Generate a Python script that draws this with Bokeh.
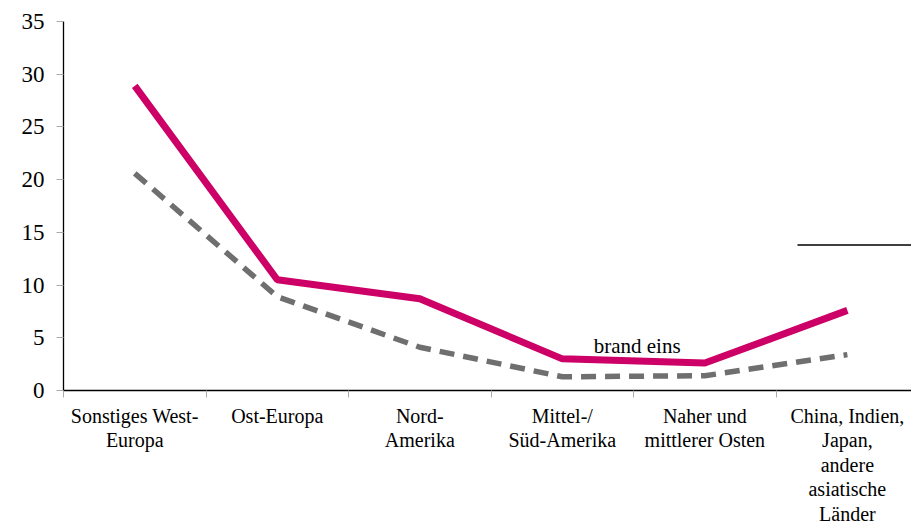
from bokeh.plotting import figure
from bokeh.models import Range1d, FixedTicker, Label
from bokeh.embed import file_html
from bokeh.resources import INLINE

categories = ["Sonstiges West-\nEuropa", "Ost-Europa", "Nord-\nAmerika",
              "Mittel-/\nSüd-Amerika", "Naher und\nmittlerer Osten",
              "China, Indien,\nJapan,\nandere\nasiatische\nLänder"]
series_brand = [28.9, 10.5, 8.7, 3.0, 2.6, 7.6]
series_other = [20.6, 8.9, 4.1, 1.3, 1.4, 3.4]
y_ticks = [0, 5, 10, 15, 20, 25, 30, 35]
label_text = "brand eins"
label_pos = (4.025, 4.2)
marker_line_y = 13.8
marker_line_x0 = 5.15

FONT = "Liberation Serif"
xs = [i + 0.5 for i in range(len(categories))]
x_end = 5.95

p = figure(width=911, height=528, output_backend="svg", toolbar_location=None,
           x_range=Range1d(0, x_end), y_range=Range1d(0, 35),
           min_border_left=63, min_border_right=0, min_border_top=21,
           min_border_bottom=138)
p.outline_line_color = None
p.xgrid.visible = False
p.ygrid.visible = False

p.line(xs, series_other, line_color="#6f6f6f", line_width=5.5, line_dash="15 9")
p.line(xs, series_brand, line_color="#cc0066", line_width=7)

p.segment(x0=[marker_line_x0], y0=[marker_line_y], x1=[x_end], y1=[marker_line_y],
          line_color="black", line_width=1.5)

p.add_layout(Label(x=label_pos[0], y=label_pos[1], text=label_text,
                   text_font=FONT, text_font_size="21px", text_align="center",
                   text_baseline="alphabetic", text_color="black"))

# x axis
p.xaxis.ticker = FixedTicker(ticks=xs, minor_ticks=list(range(0, 7)))
p.xaxis.major_label_overrides = {x: c for x, c in zip(xs, categories)}
p.xaxis.major_tick_out = 0
p.xaxis.major_tick_in = 0
p.xaxis.minor_tick_out = 7
p.xaxis.minor_tick_in = 0
p.xaxis.minor_tick_line_color = "#aaaaaa"
p.xaxis.axis_line_color = "black"
p.xaxis.axis_line_width = 1.3
p.xaxis.major_label_text_font = FONT
p.xaxis.major_label_text_font_size = "20px"
p.xaxis.major_label_text_line_height = 1.12
p.xaxis.major_label_text_color = "black"
p.xaxis.major_label_standoff = 7

# y axis
p.yaxis.ticker = FixedTicker(ticks=y_ticks, minor_ticks=[])
p.yaxis.major_tick_out = 7
p.yaxis.major_tick_in = 0
p.yaxis.major_tick_line_color = "#aaaaaa"
p.yaxis.axis_line_color = "black"
p.yaxis.axis_line_width = 1.3
p.yaxis.major_label_text_font = FONT
p.yaxis.major_label_text_font_size = "23px"
p.yaxis.major_label_text_color = "black"
p.yaxis.major_label_standoff = 12

open("out.html", "w").write(file_html(p, INLINE))
